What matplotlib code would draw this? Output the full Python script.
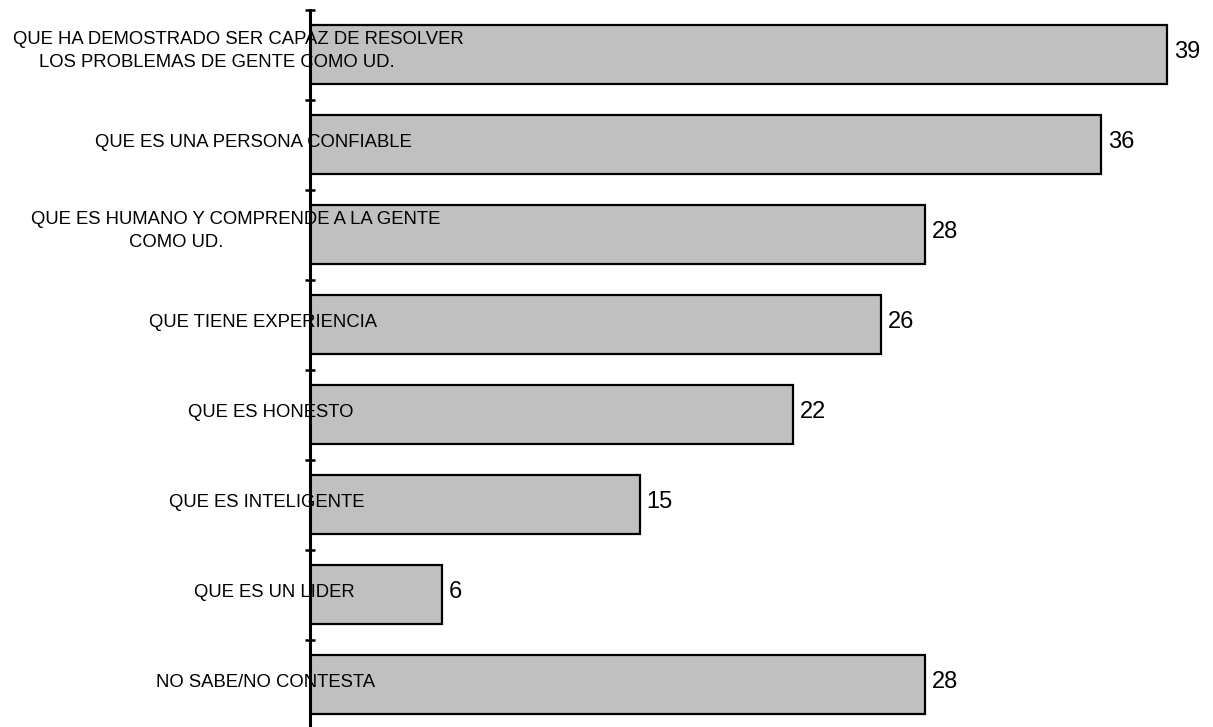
import matplotlib
matplotlib.use('Agg')
import matplotlib.pyplot as plt

plt.rcParams['font.family'] = ['Liberation Sans', 'DejaVu Sans']

categories = [
    "QUE HA DEMOSTRADO SER CAPAZ DE RESOLVER\nLOS PROBLEMAS DE GENTE COMO UD.",
    "QUE ES UNA PERSONA CONFIABLE",
    "QUE ES HUMANO Y COMPRENDE A LA GENTE\nCOMO UD.",
    "QUE TIENE EXPERIENCIA",
    "QUE ES HONESTO",
    "QUE ES INTELIGENTE",
    "QUE ES UN LIDER",
    "NO SABE/NO CONTESTA",
]
values = [39, 36, 28, 26, 22, 15, 6, 28]

# layout: horizontal centre (figure pixels) of each label line
label_centers = [[238, 217], [253], [236, 176], [263], [271], [267], [274], [266]]

W, H = 1213, 727
fig = plt.figure(figsize=(W / 100, H / 100), dpi=100)
px_per_unit = 21.97
xmax = 40
ax = fig.add_axes([310 / W, (H - 729.5) / H, xmax * px_per_unit / W, 720 / H])

ypos = list(range(len(values)))
ax.barh(ypos, values, height=0.66, color='#C0C0C0', edgecolor='black',
        linewidth=1.6, zorder=2)
ax.set_xlim(0, xmax)
ax.set_ylim(len(values) - 0.5, -0.5)
for s in ['top', 'right', 'bottom']:
    ax.spines[s].set_visible(False)
ax.spines['left'].set_linewidth(2.2)
ax.spines['left'].set_zorder(3)
ax.set_xticks([])
ax.set_yticks([i - 0.5 for i in range(len(values) + 1)])
ax.set_yticklabels([])
ax.tick_params(axis='y', direction='inout', length=7.5, width=1.8)

for i, (cat, v) in enumerate(zip(categories, values)):
    lines = cat.split('\n')
    offs = [2] if len(lines) == 1 else [15, -8]
    for line, cx, dy in zip(lines, label_centers[i], offs):
        ax.annotate(line, xy=(cx, i), xycoords=('figure pixels', 'data'),
                    xytext=(0, dy), textcoords='offset pixels',
                    ha='center', va='center', fontsize=13.3, color='black',
                    annotation_clip=False, zorder=4)
    ax.annotate(str(v), xy=(v, i), xycoords='data', xytext=(7, 2),
                textcoords='offset pixels', ha='left', va='center',
                fontsize=17, color='black', annotation_clip=False)

fig.savefig('out.png', dpi=100)
